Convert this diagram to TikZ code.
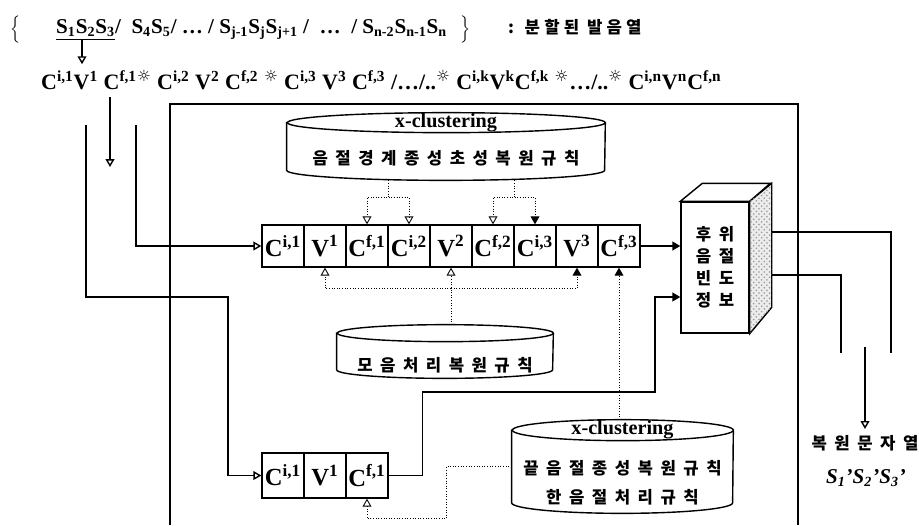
\documentclass[tikz,border=0pt]{standalone}
\usepackage{fontspec}
\setmainfont{Liberation Serif}
\newfontfamily\krfont{Noto Sans CJK KR}[LetterSpace=45]
\newfontfamily\symfont{DejaVu Sans}
\usetikzlibrary{arrows.meta,calc,positioning,shapes.geometric,patterns}

\newcommand{\Ci}[1]{C\textsuperscript{i,#1}}
\newcommand{\Cf}[1]{C\textsuperscript{f,#1}}
\newcommand{\Vw}[1]{V\textsuperscript{#1}}
\newcommand{\Sn}[1]{S\textsubscript{#1}}
\newcommand{\sunmk}{\textsuperscript{\symfont\mdseries ☼}}
\newcommand{\CellSize}{.84cm}
% rule base drawn as a drum round a named node: name, x radius, y radius
\newcommand{\dbdraw}[3]{%
 \draw[flow,fill=white] ([yshift=-#3]#1.north west) -- ([yshift=#3]#1.south west)
  arc[start angle=180,end angle=360,x radius=#2,y radius=#3]
  -- ([yshift=-#3]#1.north east)
  arc[start angle=0,end angle=180,x radius=#2,y radius=#3] -- cycle;
 \draw[flow] ([yshift=-#3]#1.north east) arc[start angle=0,end angle=-180,x radius=#2,y radius=#3];}

\tikzset{
 cell/.style={draw,line width=.8pt,minimum width=\CellSize,minimum height=\CellSize,
  inner sep=0pt,font=\fontsize{14}{14}\selectfont\bfseries},
 db/.style={inner sep=0pt},
 kr/.style={font=\krfont\bfseries\fontsize{9.5}{12.5}\selectfont},
 latin/.style={font=\fontsize{11.5}{13}\selectfont\bfseries},
 flow/.style={line width=.8pt},
 dots/.style={densely dotted,line width=.5pt},
 hollow/.style={-{Triangle[open,width=5pt,length=4.5pt]}},
 filled/.style={-{Triangle[width=5pt,length=4.5pt]}}
}

\begin{document}
\begin{tikzpicture}[x=.02cm,y=-.02cm]
\useasboundingbox (0,0) rectangle (919,525);
% input string
\node[inner sep=0pt,scale=.86] (lbrace) at (16,29) {$\Big\{$};
\node[anchor=west,font=\fontsize{12}{14}\selectfont\bfseries] (split) at (50,30)
 {\underline{\Sn1\Sn2\Sn3}/ \ \Sn4\Sn5/ … / \Sn{j-1}\Sn{j}\Sn{j+1} / \ … \ / \Sn{n-2}\Sn{n-1}\Sn{n}};
\node[inner sep=0pt,scale=.86] (rbrace) at (466,29) {$\Big\}$};
\node[kr,anchor=west] (splitlab) at (502,27) {\addfontfeature{LetterSpace=25}: 분할된 발음열};
\node[anchor=west,font=\fontsize{12.5}{14}\selectfont\bfseries] (syl) at (35,80)
 {\Ci1\Vw1 \Cf1\sunmk{} \Ci2 \Vw2 \Cf2 \sunmk{} \Ci3 \Vw3 \Cf3 /…/..\sunmk{} \Ci{k}\Vw{k}\Cf{k} \sunmk…/..\sunmk{} \Ci{n}\Vw{n}\Cf{n}};
\coordinate (s3) at (82,39);
\draw[flow,hollow] (s3) -- (s3 |- syl.north);

% frame
\draw[line width=1.1pt] (170,525) |- (798,104) -- (798,525);

% rule bases
\node[db,minimum width=6.36cm,minimum height=1.34cm] (rule1) at (446,146.5) {};
\dbdraw{rule1}{3.18cm}{.2cm}
\node[latin] (xc1) at (446,123) {x-clustering};
\node[kr] (rule1txt) at (446,158) {음절경계종성초성복원규칙};
\node[db,minimum width=4.32cm,minimum height=1.06cm] (rule2) at (445,351.5) {};
\dbdraw{rule2}{2.16cm}{.17cm}
\node[kr] (rule2txt) at (445,365) {모음처리복원규칙};
\node[db,minimum width=4.42cm,minimum height=1.86cm] (rule3) at (622.5,466.5) {};
\dbdraw{rule3}{2.21cm}{.21cm}
\node[latin] (xc3) at (622.5,430) {x-clustering};
\node[kr] (rule3txt) at (622.5,468) {끝음절종성복원규칙};
\node[kr] (rule3txt2) at (622.5,497) {한음절처리규칙};

% syllable cells
\foreach \lab [count=\i] in {\Ci1,\Vw1,\Cf1,\Ci2,\Vw2,\Cf2,\Ci3,\Vw3,\Cf3}
 \node[cell] (m\i) at ({241+42*\i},246) {\lab};
\foreach \lab [count=\i] in {\Ci1,\Vw1,\Cf1}
 \node[cell,minimum height=.9cm] (l\i) at ({241+42*\i},475.5) {\lab};

% frequency box
\node[draw,flow,fill=white,minimum width=1.36cm,minimum height=2.62cm,
 kr,align=center] (info) at (715,267.5) {후위\\음절\\빈도\\정보};
\draw[flow,fill=white] (info.north west) -- ++(22,-18) -- ++(68,0) -- (info.north east) -- cycle;
\draw[flow,fill=gray!15,postaction={pattern=crosshatch dots,pattern color=gray!80}]
 (info.north east) -- ++(22,-18) -- ++(0,124) -- (info.south east) -- cycle;

% left feeds
\coordinate (fa) at (86,125);
\coordinate (fb) at (136,125);
\coordinate (fc) at (110,97);
\coordinate (bend) at (228,297);
\draw[flow,hollow] (fc) -- ++(0,70);
\draw[flow,hollow] (fb) |- (m1.west);
\draw[flow,hollow] (fa) |- (bend) |- (l1.west);

% rule links
\draw[dots,hollow] (m3.east |- rule1.south) -- ++(0,17) -| (m3.north);
\draw[dots,hollow] (m3.east |- rule1.south) ++(0,17) -| (m4.north);
\draw[dots,hollow] (m6.east |- rule1.south) -- ++(0,17) -| (m6.north);
\draw[dots,filled] (m6.east |- rule1.south) ++(0,17) -| (m7.north);
\path (m5.south) ++(0,21) coordinate (vjoin);
\draw[dots,hollow] (m5.south |- rule2.north) -- (m5.south);
\draw[dots,hollow] (vjoin) -| (m2.south);
\draw[dots,filled] (vjoin) -| (m8.south);
\draw[dots,filled] (m9.south |- rule3.north) -- (m9.south);
\draw[dots,hollow] (rule3.west) -- ++(-65,0) -- ++(0,52) -| (l3.south);

% to frequency box
\coordinate (jog) at (655,392);
\draw[flow,filled] (m9.east) -- (m9.east -| info.west);
\draw[flow,filled] (l3.east) -- ++(34,0) |- (jog) |- ([yshift=-.59cm]info.west);

% output
\coordinate (out1) at (891,353);
\coordinate (out2) at (841,353);
\coordinate (outtop) at (865,347);
\draw[flow] ([xshift=.44cm,yshift=.71cm]info.east) -| (out1);
\draw[flow] ([xshift=.44cm,yshift=-.15cm]info.east) -| (out2);
\node[kr] (restored) at (865,443) {복원문자열};
\node[font=\fontsize{12}{14}\selectfont\bfseries\itshape] (restoredS) at (866,478) {\Sn1’\Sn2’\Sn3’};
\draw[flow,hollow] (outtop) -- (restored.north);
\end{tikzpicture}
\end{document}
